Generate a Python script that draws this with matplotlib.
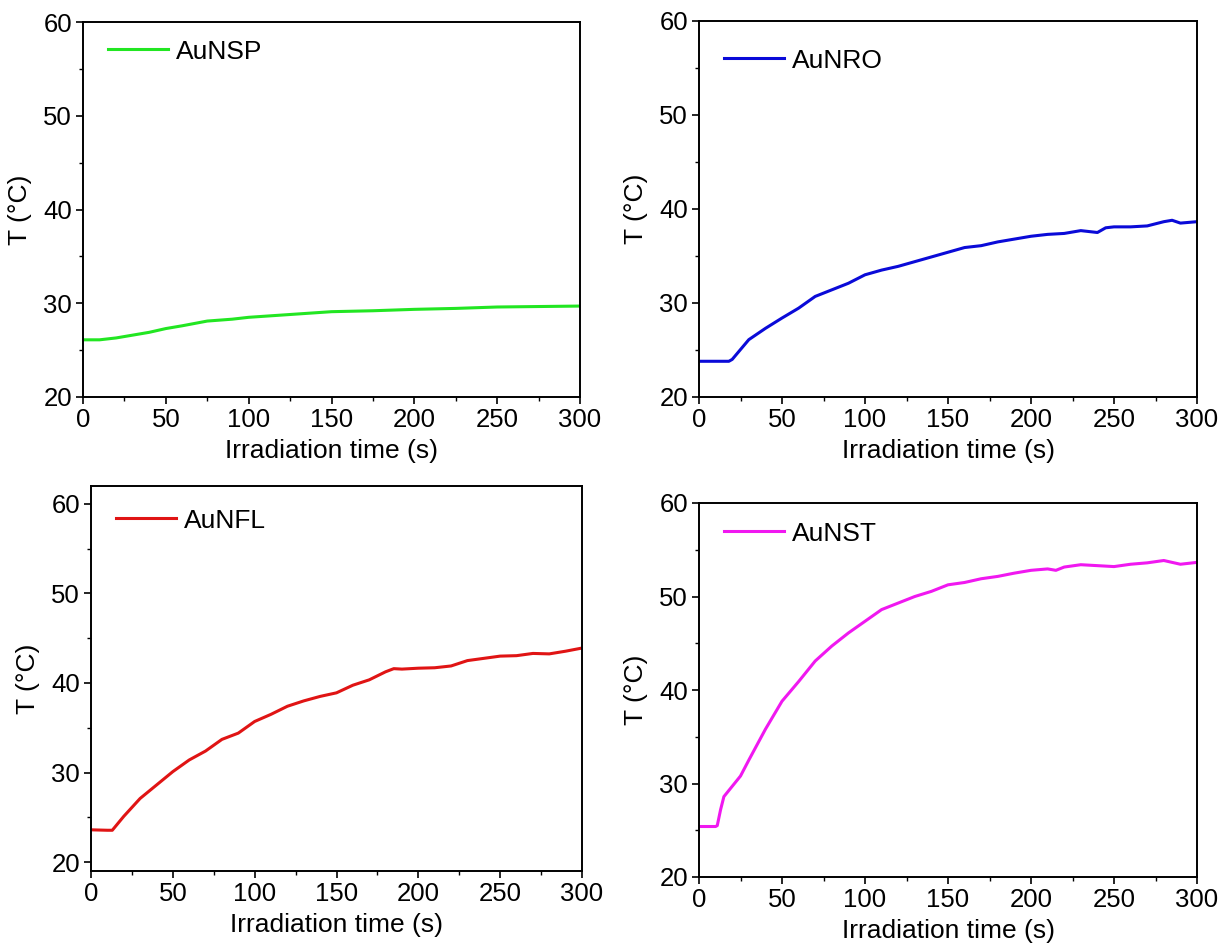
import numpy as np
import matplotlib.pyplot as plt

plt.rcParams['font.family'] = ['Liberation Sans', 'DejaVu Sans']

# AuNSP
t_nsp = [0, 10, 20, 30, 40, 50, 60, 75, 90, 100, 125, 150, 175, 200, 225, 250, 275, 300]
T_nsp = [26.1, 26.1, 26.3, 26.6, 26.9, 27.3, 27.6, 28.1, 28.3, 28.5, 28.8, 29.1, 29.2, 29.35, 29.45, 29.6, 29.65, 29.7]

# AuNRO
t_nro = [0, 10, 18, 20, 30, 40, 50, 60, 70, 80, 90, 100, 110, 120, 130, 140, 150, 160, 170,
         180, 190, 200, 210, 220, 230, 240, 245, 250, 260, 270, 280, 285, 290, 300]
T_nro = [23.8, 23.8, 23.8, 24.0, 26.1, 27.3, 28.4, 29.45, 30.7, 31.4, 32.1, 33.0, 33.5, 33.9, 34.4,
         34.9, 35.4, 35.9, 36.1, 36.5, 36.8, 37.1, 37.3, 37.4, 37.7, 37.5, 38.0, 38.1, 38.1, 38.2,
         38.65, 38.8, 38.5, 38.65]

# AuNFL
t_nfl = [0, 10, 13, 20, 30, 40, 50, 60, 70, 80, 90, 100, 110, 120, 130, 140, 150, 160, 170,
         180, 185, 190, 200, 210, 220, 230, 240, 250, 260, 270, 280, 290, 300]
T_nfl = [23.6, 23.55, 23.55, 25.1, 27.1, 28.6, 30.1, 31.4, 32.4, 33.7, 34.4, 35.7, 36.5, 37.4, 38.0,
         38.5, 38.9, 39.75, 40.35, 41.25, 41.6, 41.55, 41.65, 41.7, 41.9, 42.5, 42.75, 43.0, 43.05,
         43.3, 43.25, 43.55, 43.9]

# AuNST
t_nst = [0, 10, 11, 13, 15, 20, 25, 30, 40, 50, 60, 70, 80, 90, 100, 110, 120, 130, 140, 150,
         160, 170, 180, 190, 200, 210, 215, 220, 230, 240, 250, 260, 270, 280, 290, 300]
T_nst = [25.4, 25.4, 25.5, 27.2, 28.6, 29.7, 30.8, 32.5, 35.8, 38.8, 40.9, 43.1, 44.7, 46.1, 47.35,
         48.6, 49.3, 50.0, 50.55, 51.25, 51.5, 51.9, 52.15, 52.5, 52.8, 52.95, 52.8, 53.15, 53.4,
         53.3, 53.2, 53.45, 53.6, 53.85, 53.45, 53.65]

W, H = 1225, 944
fig = plt.figure(figsize=(W / 100, H / 100), dpi=100)

panels = [
    # x px left, right, top, bottom, ylim, data, colour, label, legend y offset px
    (83, 580, 22, 397, (20, 60), t_nsp, T_nsp, '#22e622', 'AuNSP', 22),
    (699, 1197, 21, 397, (20, 60), t_nro, T_nro, '#0a0ad8', 'AuNRO', 32),
    (91, 582, 486, 871, (19, 62), t_nfl, T_nfl, '#e01414', 'AuNFL', 27),
    (699, 1197, 503, 877, (20, 60), t_nst, T_nst, '#f018f0', 'AuNST', 23),
]

for l, r, top, bot, ylim, t, T, col, lab, ly in panels:
    ax = fig.add_axes([l / W, 1 - bot / H, (r - l) / W, (bot - top) / H])
    ax.plot(t, T, color=col, lw=2.2, label=lab)
    ax.set_xlim(0, 300)
    ax.set_ylim(*ylim)
    ax.set_xticks(np.arange(0, 301, 50))
    ax.set_xticks(np.arange(25, 300, 50), minor=True)
    ax.set_yticks(np.arange(20, 61, 10))
    ax.set_yticks(np.arange(25, 60, 10), minor=True)
    ax.tick_params(which='major', direction='out', length=5, width=1.2, labelsize=18.5, pad=3)
    ax.tick_params(which='minor', direction='out', length=3, width=1.0)
    for s in ax.spines.values():
        s.set_linewidth(1.4)
    ax.set_xlabel('Irradiation time (s)', fontsize=19, labelpad=5)
    ax.set_ylabel('T (°C)', fontsize=19, labelpad=8)
    ax.legend(loc='upper left', frameon=False, fontsize=19, handlelength=2.3,
              handletextpad=0.3, borderaxespad=0,
              bbox_to_anchor=(14 / (r - l), 1 - (ly - 15) / (bot - top)))

fig.savefig('out.png', dpi=100)
